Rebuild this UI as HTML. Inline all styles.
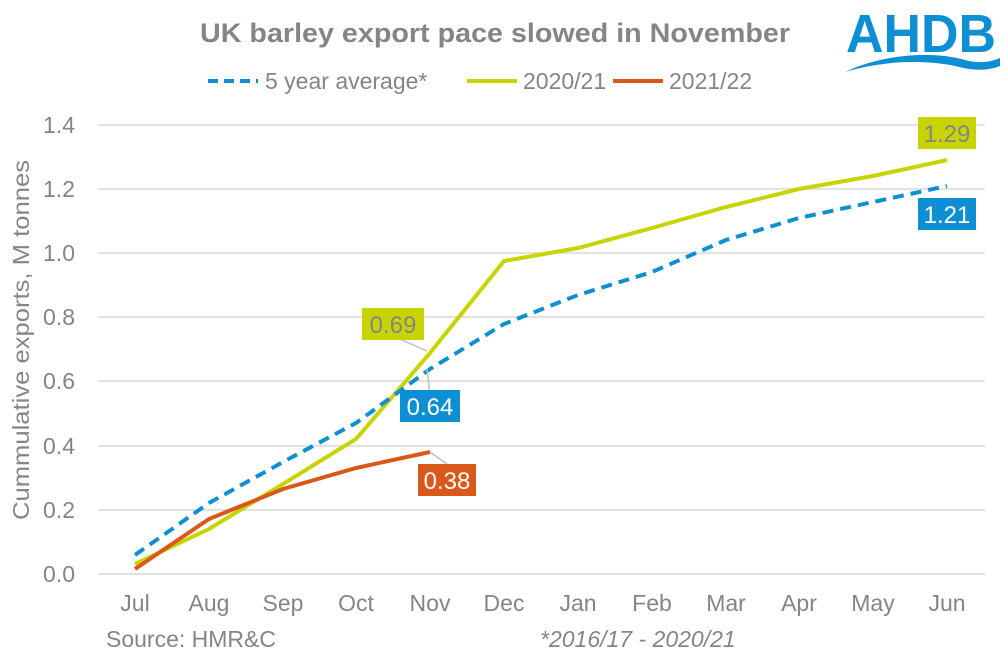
<!DOCTYPE html>
<html><head><style>body{margin:0;background:#fff}svg{display:block}text{font-family:"Liberation Sans",sans-serif}</style></head><body>
<svg width="1005" height="662" viewBox="0 0 1005 662">
<text x="495" y="42" text-anchor="middle" font-size="27" font-weight="bold" fill="#858585" textLength="590" lengthAdjust="spacingAndGlyphs">UK barley export pace slowed in November</text>
<text x="846" y="52" font-size="54" font-weight="bold" fill="#0f8fd3" textLength="150" lengthAdjust="spacingAndGlyphs">AHDB</text>
<path d="M845 72 C880 55,930 50,965 60 C980 64,990 62,1000 58 L1000 66 C985 72,970 70,955 66 C925 60,885 60,845 72Z" fill="#0f8fd3"/>
<line x1="208" y1="81" x2="258" y2="81" stroke="#0f8fd3" stroke-width="4" stroke-dasharray="10,6"/>
<text x="265" y="89" font-size="23" fill="#858585">5 year average*</text>
<line x1="467" y1="81" x2="517" y2="81" stroke="#c8d400" stroke-width="4"/>
<text x="523" y="89" font-size="23" fill="#858585">2020/21</text>
<line x1="613" y1="81" x2="663" y2="81" stroke="#d9581a" stroke-width="4"/>
<text x="669" y="89" font-size="23" fill="#858585">2021/22</text>
<g stroke="#d9d9d9" stroke-width="1.5">
<line x1="98" y1="125" x2="985" y2="125"/><line x1="98" y1="189" x2="985" y2="189"/><line x1="98" y1="253" x2="985" y2="253"/><line x1="98" y1="317" x2="985" y2="317"/><line x1="98" y1="381" x2="985" y2="381"/><line x1="98" y1="446" x2="985" y2="446"/><line x1="98" y1="510" x2="985" y2="510"/><line x1="98" y1="574" x2="985" y2="574"/>
</g>
<g font-size="23" fill="#858585" text-anchor="end">
<text x="75" y="133">1.4</text><text x="75" y="197">1.2</text><text x="75" y="261">1.0</text><text x="75" y="325">0.8</text><text x="75" y="389">0.6</text><text x="75" y="454">0.4</text><text x="75" y="518">0.2</text><text x="75" y="582">0.0</text>
</g>
<g font-size="23" fill="#858585" text-anchor="middle">
<text x="135" y="611">Jul</text><text x="209" y="611">Aug</text><text x="283" y="611">Sep</text><text x="356" y="611">Oct</text><text x="430" y="611">Nov</text><text x="504" y="611">Dec</text><text x="578" y="611">Jan</text><text x="652" y="611">Feb</text><text x="726" y="611">Mar</text><text x="799" y="611">Apr</text><text x="873" y="611">May</text><text x="947" y="611">Jun</text>
</g>
<text transform="translate(29,340) rotate(-90)" font-size="23" fill="#858585" text-anchor="middle" textLength="360" lengthAdjust="spacingAndGlyphs">Cummulative exports, M tonnes</text>
<text x="106" y="647" font-size="23" fill="#858585">Source: HMR&amp;C</text>
<text x="540" y="647" font-size="23" font-style="italic" fill="#858585">*2016/17 - 2020/21</text>
<polyline fill="none" stroke="#c8d400" stroke-width="4" points="135,564 209,529 283,484 356,439 430,353 504,261 578,248 652,228 726,207 799,189 873,176 947,160"/>
<polyline fill="none" stroke="#0f8fd3" stroke-width="4" stroke-dasharray="11,7" points="135,555 209,503 283,462 356,423 430,369 504,324 578,295 652,272 726,240 799,218 873,202 947,186"/>
<polyline fill="none" stroke="#d9581a" stroke-width="4" points="135,569 209,519 283,489 356,468 430,452"/>
<g stroke="#bfbfbf" stroke-width="1.5" fill="none">
<polyline points="393,336 427,351"/><polyline points="427,369 430,394"/><polyline points="430,452 447,464"/>
</g>
<rect x="362" y="308" width="62" height="32" fill="#c8d400"/><text x="393" y="333" font-size="24" fill="#858585" text-anchor="middle">0.69</text>
<rect x="400" y="390" width="60" height="32" fill="#0f8fd3"/><text x="430" y="415" font-size="24" fill="#fff" text-anchor="middle">0.64</text>
<rect x="418" y="464" width="58" height="32" fill="#d9581a"/><text x="447" y="489" font-size="24" fill="#fff" text-anchor="middle">0.38</text>
<rect x="918" y="117" width="58" height="32" fill="#c8d400"/><text x="947" y="142" font-size="24" fill="#858585" text-anchor="middle">1.29</text>
<rect x="918" y="198" width="58" height="32" fill="#0f8fd3"/><text x="947" y="223" font-size="24" fill="#fff" text-anchor="middle">1.21</text>
</svg>
</body></html>
